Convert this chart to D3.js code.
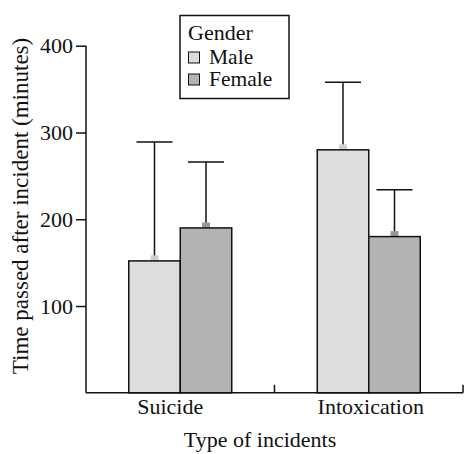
<!DOCTYPE html>
<html>
<head>
<meta charset="utf-8">
<script src="https://cdn.jsdelivr.net/npm/d3@7"></script>
<style>
  html, body { margin: 0; padding: 0; background: #fff; }
  svg text { font-family: "Liberation Serif", "Times New Roman", serif; fill: #111; }
</style>
</head>
<body>
<svg id="chart" width="465" height="454"></svg>
<script>
// Mean time (minutes) and upper error bound per incident type and gender
const categories = ["Suicide", "Intoxication"];
const genders = ["Male", "Female"];
const meanMale = [152, 280];
const meanFemale = [190, 180];
const upperMale = [289, 358];
const upperFemale = [266, 234];
const yTicks = [100, 200, 300, 400];

const rows = categories.map((c, i) => ({
  category: c,
  values: [
    { gender: "Male", mean: meanMale[i], upper: upperMale[i] },
    { gender: "Female", mean: meanFemale[i], upper: upperFemale[i] }
  ]
}));

const fill = d3.scaleOrdinal().domain(genders).range(["#dcdddc", "#b3b3b3"]);
const markFill = d3.scaleOrdinal().domain(genders).range(["#cfcfcf", "#999999"]);

const svg = d3.select("#chart");
const plotLeft = 86, plotRight = 463, plotTop = 45.7, plotBottom = 392.8;

const x0 = d3.scaleBand().domain(categories).range([plotLeft, plotRight]).padding(0);
const x1 = d3.scaleBand().domain(genders).range([0, x0.bandwidth()])
  .paddingInner(0).paddingOuter(0.83);
const y = d3.scaleLinear().domain([0, 400]).range([plotBottom, plotTop]);

// Bars
const groups = svg.append("g").selectAll("g").data(rows).join("g")
  .attr("transform", d => `translate(${x0(d.category)},0)`);

groups.selectAll("line.err").data(d => d.values).join("line")
  .attr("class", "err")
  .attr("x1", d => x1(d.gender) + x1.bandwidth() / 2)
  .attr("x2", d => x1(d.gender) + x1.bandwidth() / 2)
  .attr("y1", d => y(d.mean))
  .attr("y2", d => y(d.upper))
  .attr("stroke", "#111").attr("stroke-width", 1.5);

const capW = 36;
groups.selectAll("line.cap").data(d => d.values).join("line")
  .attr("class", "cap")
  .attr("x1", d => x1(d.gender) + x1.bandwidth() / 2 - capW / 2)
  .attr("x2", d => x1(d.gender) + x1.bandwidth() / 2 + capW / 2)
  .attr("y1", d => y(d.upper))
  .attr("y2", d => y(d.upper))
  .attr("stroke", "#111").attr("stroke-width", 1.5);

// small mean marker just above each bar
groups.selectAll("rect.mark").data(d => d.values).join("rect")
  .attr("class", "mark")
  .attr("x", d => x1(d.gender) + x1.bandwidth() / 2 - 4)
  .attr("y", d => y(d.mean) - 5.5)
  .attr("width", 8).attr("height", 5.5)
  .attr("fill", d => markFill(d.gender));

groups.selectAll("rect.bar").data(d => d.values).join("rect")
  .attr("class", "bar")
  .attr("x", d => x1(d.gender))
  .attr("y", d => y(d.mean))
  .attr("width", x1.bandwidth())
  .attr("height", d => y(0) - y(d.mean))
  .attr("fill", d => fill(d.gender))
  .attr("stroke", "#111").attr("stroke-width", 1.5);

// Y axis
const yAxis = svg.append("g").attr("transform", `translate(${plotLeft},0)`)
  .call(d3.axisLeft(y).tickValues(yTicks).tickSize(10).tickPadding(3).tickSizeOuter(0));
yAxis.select(".domain").remove();
yAxis.append("line").attr("x1", 0).attr("x2", 0).attr("y1", plotTop).attr("y2", plotBottom)
  .attr("stroke", "#111").attr("stroke-width", 1.5);
yAxis.selectAll(".tick line").attr("stroke", "#111").attr("stroke-width", 1.5);
yAxis.selectAll(".tick text").attr("font-size", 22).attr("fill", "#111")
  .attr("font-family", "Liberation Serif");

// X axis with inward ticks at category boundaries
const xg = svg.append("g");
xg.append("line").attr("x1", plotLeft).attr("x2", plotRight).attr("y1", plotBottom).attr("y2", plotBottom)
  .attr("stroke", "#111").attr("stroke-width", 1.5);
xg.selectAll("line.btick").data(categories).join("line")
  .attr("class", "btick")
  .attr("x1", d => x0(d) + x0.bandwidth())
  .attr("x2", d => x0(d) + x0.bandwidth())
  .attr("y1", plotBottom).attr("y2", plotBottom - 8)
  .attr("stroke", "#111").attr("stroke-width", 1.5);
const labelShift = [-10, 2];
xg.selectAll("text.cat").data(categories).join("text")
  .attr("class", "cat")
  .attr("x", (d, i) => x0(d) + x0.bandwidth() / 2 + labelShift[i])
  .attr("y", 414)
  .attr("text-anchor", "middle")
  .attr("font-size", 22)
  .text(d => d);

// Axis titles
svg.append("text").attr("x", 260).attr("y", 447).attr("text-anchor", "middle")
  .attr("font-size", 22).text("Type of incidents");
svg.append("text").attr("transform", "translate(27.5,206) rotate(-90)")
  .attr("text-anchor", "middle").attr("font-size", 23)
  .text("Time passed after incident (minutes)");

// Legend
const lg = svg.append("g");
lg.append("rect").attr("x", 180).attr("y", 15.5).attr("width", 109).attr("height", 83)
  .attr("fill", "#fff").attr("stroke", "#111").attr("stroke-width", 1.5);
lg.append("text").attr("x", 188).attr("y", 40).attr("font-size", 22).text("Gender");
const items = lg.selectAll("g.item").data(genders).join("g")
  .attr("class", "item")
  .attr("transform", (d, i) => `translate(188,${52 + i * 22})`);
items.append("rect").attr("x", 0.5).attr("y", 0).attr("width", 11).attr("height", 11)
  .attr("fill", d => fill(d)).attr("stroke", "#111").attr("stroke-width", 1);
items.append("text").attr("x", 21).attr("y", 12).attr("font-size", 21.5).text(d => d);
</script>
</body>
</html>
